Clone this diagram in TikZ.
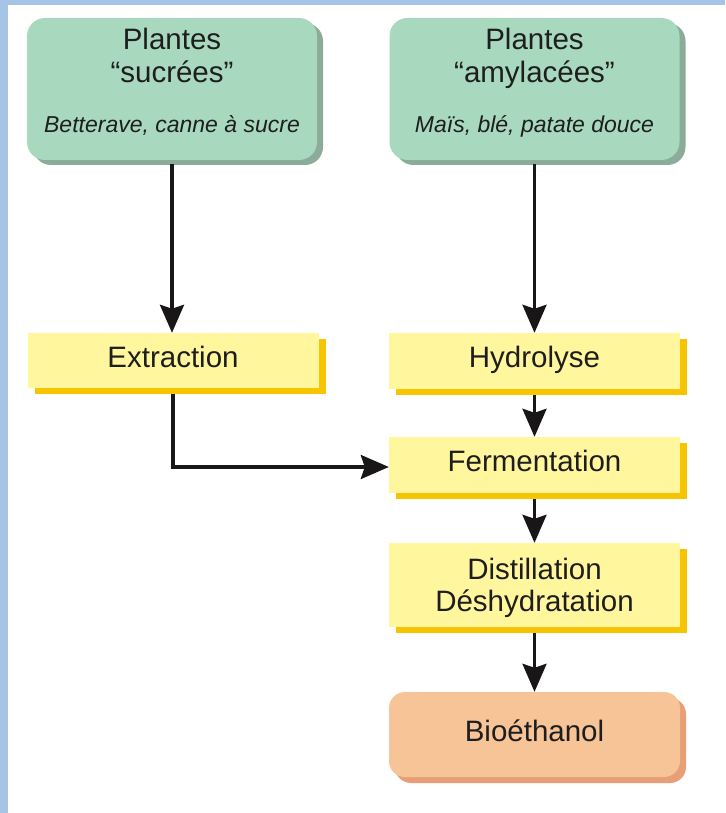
\documentclass[tikz,border=0pt]{standalone}
\usepackage{fontspec}
\setmainfont{Liberation Sans}
\usetikzlibrary{arrows.meta,shadows}
\definecolor{frameblue}{RGB}{166,196,232}
\definecolor{greenfill}{RGB}{168,216,190}
\definecolor{greenshadow}{RGB}{138,172,152}
\definecolor{yellowfill}{RGB}{255,246,158}
\definecolor{yellowshadow}{RGB}{246,196,0}
\definecolor{orangefill}{RGB}{246,196,150}
\definecolor{orangeshadow}{RGB}{232,158,118}
\definecolor{txt}{RGB}{30,30,30}
\definecolor{linec}{RGB}{24,22,22}
\newcommand\bigfs{\fontsize{29.5}{32}\selectfont}
\newcommand\smallit{\fontsize{23}{27}\selectfont\itshape}
\tikzset{
  bigfont/.style={font=\bigfs, text=txt, inner sep=0pt},
  itfont/.style={font=\smallit, text=txt, inner sep=0pt},
  greenbox/.style={fill=greenfill, rounded corners=18pt, minimum width=290pt, minimum height=142pt,
    inner sep=0pt,
    general shadow={shadow xshift=6pt, shadow yshift=-5pt, fill=greenshadow, rounded corners=18pt}},
  yellowbox/.style={fill=yellowfill, minimum width=291pt, align=center, text=txt, inner sep=0pt, bigfont,
    text height=21pt, text depth=8pt,
    general shadow={shadow xshift=7pt, shadow yshift=-6pt, fill=yellowshadow}},
  orangebox/.style={fill=orangefill, rounded corners=16pt, minimum width=291pt, minimum height=85pt,
    align=center, text=txt, inner sep=0pt, bigfont, text height=21pt, text depth=8pt,
    general shadow={shadow xshift=6pt, shadow yshift=-6pt, fill=orangeshadow, rounded corners=16pt}},
  flow/.style={line width=3.2pt, draw=linec, -{Stealth[length=28pt, width=24pt, inset=4pt]}},
}
\begin{document}
\begin{tikzpicture}[x=1pt, y=-1pt]
\useasboundingbox (0,0) rectangle (725,813);
\fill[white] (0,0) rectangle (725,813);
\fill[frameblue] (0,0) rectangle (8,813);
\fill[frameblue] (0,0) rectangle (725,5);

\node[greenbox] (sug) at (172,89) {};
\node[greenbox] (amy) at (534.5,89) {};
\node[bigfont, anchor=base] (sugA) at (172,50) {Plantes};
\node[bigfont, anchor=base] (sugB) at (172,83) {“sucrées”};
\node[itfont, anchor=base] (sugC) at (172,133) {Betterave, canne à sucre};
\node[bigfont, anchor=base] (amyA) at (534.5,50) {Plantes};
\node[bigfont, anchor=base] (amyB) at (534.5,83) {“amylacées”};
\node[itfont, anchor=base] (amyC) at (534.5,133) {Maïs, blé, patate douce};

\node[yellowbox, minimum height=55pt] (ext) at (173,360.5) {Extraction};
\node[yellowbox, minimum height=56pt] (hyd) at (534.5,361) {Hydrolyse};
\node[yellowbox, minimum height=56pt] (fer) at (534.5,465) {Fermentation};
\node[yellowbox, minimum height=84pt, text height=53pt, text depth=0pt] (dis) at (534.5,585) {Distillation\\Déshydratation};
\node[orangebox] (bio) at (534.5,734.5) {Bioéthanol};

\draw[flow] ([yshift=-4pt]sug.south) -- (sug.south |- ext.north);
\draw[flow] ([yshift=-4pt]amy.south) -- (hyd.north);
\draw[flow] ([yshift=-6pt]hyd.south) -- (fer.north);
\draw[flow] ([yshift=-6pt]fer.south) -- (dis.north);
\draw[flow] ([yshift=-6pt]dis.south) -- (bio.north);
\draw[flow] ([yshift=-6pt]ext.south) |- ([yshift=-2pt]fer.west);
\end{tikzpicture}
\end{document}
